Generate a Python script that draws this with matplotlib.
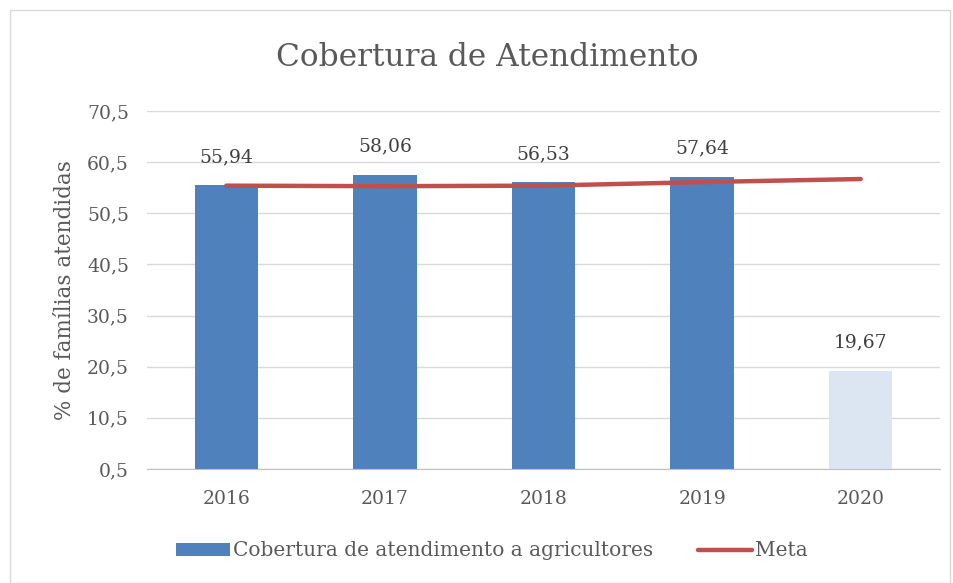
import matplotlib.pyplot as plt
from matplotlib.patches import Rectangle
from matplotlib.ticker import FuncFormatter
import numpy as np

plt.rcParams['font.family'] = ['DejaVu Serif']

# data
anos = ['2016', '2017', '2018', '2019', '2020']
cobertura = [55.94, 58.06, 56.53, 57.64, 19.67]
meta = [55.9, 55.8, 55.9, 56.6, 57.2]
yticks = [0.5, 10.5, 20.5, 30.5, 40.5, 50.5, 60.5, 70.5]

txt = '#595959'
fig = plt.figure(figsize=(9.54, 5.83), dpi=100)
ax = fig.add_axes([147/954, 1 - 469/583, (940-147)/954, (469-111)/583])

# border around the whole chart
fig.patches.append(Rectangle((10/954, 0), 940/954, 1 - 10/583, transform=fig.transFigure,
                             fill=False, edgecolor='#D9D9D9', linewidth=1))

x = np.arange(len(anos))
cores = ['#4F81BD'] * 4 + ['#DCE6F2']
bars = ax.bar(x, cobertura, 0.4, bottom=0, color=cores, zorder=2,
              label='Cobertura de atendimento a agricultores')
ax.plot(x, meta, color='#C0504D', linewidth=3.2, solid_capstyle='round', zorder=3, label='Meta')

for xi, v in zip(x, cobertura):
    ax.text(xi, v + 3.8, f'{v:.2f}'.replace('.', ','), ha='center', va='bottom',
            fontsize=13.5, color='#404040')

ax.set_ylim(0.5, 70.5)
ax.set_xlim(-0.5, 4.5)
ax.set_yticks(yticks)
ax.yaxis.set_major_formatter(FuncFormatter(lambda v, p: f'{v:.1f}'.replace('.', ',')))
ax.set_xticks(x)
ax.set_xticklabels(anos)
ax.tick_params(axis='both', length=0, labelsize=13.5, colors=txt)
ax.tick_params(axis='y', pad=13)
ax.tick_params(axis='x', pad=15)
ax.grid(axis='y', color='#D9D9D9', linewidth=1, zorder=0)
for s in ['top', 'right', 'left']:
    ax.spines[s].set_visible(False)
ax.spines['bottom'].set_color('#BFBFBF')

ax.set_ylabel('% de famílias atendidas', fontsize=15.5, color=txt, labelpad=8)
fig.text(487/954, 1 - 57/583, 'Cobertura de Atendimento', ha='center', va='center',
         fontsize=22.5, color=txt)

h, l = ax.get_legend_handles_labels()
leg = fig.legend(h[::-1], l[::-1], loc='center', bbox_to_anchor=(492/954, 1 - 551/583), ncol=2,
                 frameon=False, fontsize=14.5, handlelength=2.7, handleheight=0.6,
                 handletextpad=0.15, columnspacing=2.2)
for t in leg.get_texts():
    t.set_color(txt)

plt.savefig('out.png', dpi=100)
